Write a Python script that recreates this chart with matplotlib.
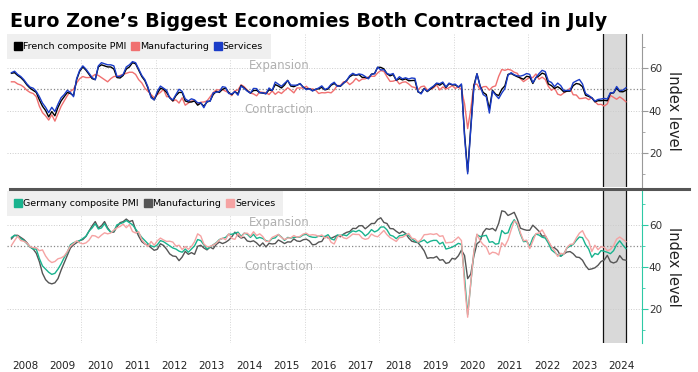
import numpy as np
import pandas as pd
import matplotlib
matplotlib.use('Agg')
import matplotlib.pyplot as plt
from matplotlib.lines import Line2D

plt.rcParams['font.family'] = ['DejaVu Sans']

# monthly PMI readings, Jan 2008 - Jul 2024
fr_comp = [
    57.5, 57.8, 56.5, 55.5, 54.0, 52.0, 50.5, 49.5, 48.5, 45.0, 42.0, 40.0,  # 2008
    37.0, 39.5, 37.5, 41.5, 44.5, 46.5, 48.5, 48.0, 47.0, 54.5, 58.5, 60.5,  # 2009
    59.0, 57.0, 55.0, 54.5, 60.5, 61.5, 61.0, 60.5, 60.5, 59.5, 55.5, 55.3,  # 2010
    56.5, 59.5, 60.5, 62.5, 62.0, 59.0, 56.0, 54.0, 50.5, 46.5, 45.0, 48.0,  # 2011
    50.5, 50.0, 48.5, 46.0, 44.5, 47.0, 48.5, 48.5, 44.5, 44.0, 44.0, 44.5,  # 2012
    42.5, 43.5, 42.0, 44.0, 44.5, 47.5, 49.0, 48.5, 50.0, 50.5, 48.5, 47.5,  # 2013
    48.9, 47.9, 51.8, 50.6, 49.3, 48.2, 49.4, 49.5, 48.4, 48.2, 47.9, 49.7,  # 2014
    49.4, 52.2, 51.5, 50.6, 52.0, 54.2, 51.5, 51.2, 51.9, 52.6, 51.0, 50.1,  # 2015
    50.3, 49.3, 50.0, 50.2, 50.9, 49.7, 50.1, 51.9, 52.7, 51.6, 51.4, 52.8,  # 2016
    54.1, 55.9, 56.8, 56.6, 56.9, 55.6, 55.6, 55.1, 57.1, 57.4, 60.3, 60.3,  # 2017
    59.6, 57.3, 56.3, 56.9, 54.2, 55.0, 54.4, 54.9, 54.0, 54.1, 54.2, 48.7,  # 2018
    48.2, 50.4, 48.9, 50.1, 51.2, 52.7, 51.9, 52.9, 50.8, 52.6, 52.1, 52.0,  # 2019
    51.1, 52.0, 28.9, 11.1, 32.1, 51.7, 57.3, 51.6, 48.5, 47.5, 40.6, 49.5,  # 2020
    47.7, 47.0, 50.0, 51.6, 57.0, 57.4, 56.6, 55.9, 55.3, 54.7, 56.1, 55.8,  # 2021
    52.7, 55.5, 56.3, 57.6, 57.0, 52.5, 51.7, 50.4, 51.2, 50.2, 48.7, 49.1,  # 2022
    49.1, 51.7, 52.7, 52.4, 51.2, 47.2, 46.6, 46.0, 44.1, 44.6, 44.6, 44.8,  # 2023
    44.6, 48.1, 48.3, 50.5, 48.9, 48.8, 49.5,                                # 2024
]
fr_manu = [
    53.5, 53.5, 52.5, 52.0, 51.0, 49.5, 48.5, 48.0, 46.5, 42.0, 39.0, 37.5,
    35.5, 38.0, 35.0, 38.5, 42.0, 44.5, 47.0, 49.0, 50.0, 53.0, 55.0, 56.0,
    55.5, 55.5, 56.0, 57.0, 56.5, 55.5, 54.5, 53.5, 55.0, 56.0, 56.0, 56.5,
    57.0, 57.5, 58.0, 58.0, 57.0, 54.5, 53.0, 50.5, 49.0, 47.5, 46.0, 47.5,
    48.5, 50.0, 46.5, 46.5, 44.5, 45.0, 43.5, 46.0, 42.5, 43.5, 44.5, 44.5,
    42.9, 43.9, 44.0, 44.5, 46.4, 48.4, 49.7, 49.7, 49.8, 49.1, 48.4, 47.0,
    49.3, 49.7, 52.1, 51.2, 49.6, 48.2, 47.8, 46.9, 48.8, 48.5, 48.4, 47.5,
    49.2, 47.6, 48.8, 48.0, 49.4, 50.7, 49.6, 48.3, 50.6, 50.6, 50.6, 51.4,
    50.0, 50.2, 49.6, 48.0, 48.4, 48.3, 48.6, 48.3, 49.7, 51.8, 51.7, 53.5,
    53.6, 52.2, 53.3, 55.1, 53.8, 54.8, 54.9, 55.8, 56.1, 56.1, 57.7, 58.8,
    58.4, 55.9, 53.7, 53.8, 54.4, 52.5, 53.3, 53.5, 52.5, 51.2, 50.8, 49.7,
    51.2, 51.5, 49.7, 50.0, 50.6, 52.0, 49.7, 51.1, 50.1, 50.7, 51.7, 50.4,
    51.1, 49.8, 43.2, 31.5, 40.6, 52.3, 52.4, 49.8, 51.2, 51.3, 49.6, 51.1,
    51.6, 56.1, 59.3, 58.9, 59.4, 59.0, 58.0, 57.5, 55.0, 53.6, 54.6, 55.6,
    55.5, 57.2, 54.7, 55.7, 54.6, 51.4, 49.5, 50.6, 47.7, 47.2, 48.3, 49.2,
    50.5, 47.4, 47.3, 45.6, 45.7, 46.0, 45.1, 46.0, 44.2, 42.8, 42.9, 42.1,
    43.1, 47.1, 46.2, 45.3, 46.4, 45.4, 44.1,
]
fr_serv = [
    57.8, 58.5, 57.0, 56.0, 54.5, 52.5, 51.0, 50.5, 49.0, 46.5, 43.5, 41.5,
    39.0, 41.5, 39.5, 43.0, 46.0, 47.5, 49.5, 48.5, 46.5, 55.0, 59.0, 61.0,
    59.5, 57.5, 55.5, 54.5, 61.0, 62.5, 62.0, 61.5, 61.5, 61.0, 56.0, 56.0,
    57.0, 60.5, 61.5, 63.0, 62.5, 59.5, 56.5, 54.5, 51.0, 46.0, 45.0, 49.0,
    51.5, 50.5, 49.5, 46.0, 45.0, 47.5, 50.0, 49.0, 45.5, 44.5, 45.5, 45.0,
    43.6, 43.7, 41.3, 44.4, 44.3, 48.3, 48.6, 48.9, 51.2, 50.9, 48.0, 47.8,
    48.9, 47.2, 51.5, 50.4, 49.1, 48.2, 50.4, 50.3, 48.4, 48.3, 47.9, 50.6,
    49.4, 53.4, 52.4, 51.4, 52.8, 54.1, 52.0, 51.9, 51.9, 52.7, 51.0, 49.8,
    50.3, 49.2, 49.9, 50.6, 51.6, 49.9, 50.5, 52.3, 53.3, 51.4, 51.6, 52.9,
    54.1, 56.4, 57.5, 56.7, 57.2, 56.9, 56.0, 54.9, 57.0, 57.3, 60.4, 59.1,
    59.2, 57.4, 56.9, 57.4, 54.3, 55.9, 54.9, 55.4, 54.8, 55.3, 55.1, 49.0,
    47.8, 50.2, 49.1, 50.5, 51.5, 52.9, 52.6, 53.4, 51.1, 52.9, 52.2, 52.4,
    51.0, 52.5, 27.4, 10.2, 31.1, 50.7, 57.3, 51.5, 47.5, 46.5, 38.8, 49.1,
    47.3, 45.6, 48.2, 50.3, 56.6, 57.8, 56.8, 56.3, 56.2, 56.6, 57.4, 57.0,
    53.1, 55.5, 57.4, 58.9, 58.3, 53.9, 53.2, 51.2, 52.9, 51.7, 49.3, 49.5,
    49.4, 53.1, 53.9, 54.6, 52.5, 48.0, 47.1, 46.0, 44.4, 45.2, 45.4, 45.7,
    45.4, 48.4, 48.3, 51.3, 49.3, 49.6, 50.7,
]
de_comp = [
    54.0, 55.0, 54.5, 53.5, 52.5, 51.0, 49.5, 48.5, 48.5, 44.0, 40.5, 39.0,
    37.5, 36.5, 37.0, 39.0, 41.5, 44.5, 47.0, 50.5, 51.5, 52.0, 52.5, 53.5,
    54.5, 57.0, 58.5, 60.5, 58.0, 58.5, 60.5, 58.0, 56.5, 57.0, 60.0, 60.5,
    61.0, 62.0, 61.0, 60.0, 58.0, 56.0, 54.0, 52.5, 51.0, 50.0, 49.5, 50.5,
    52.5, 52.0, 51.0, 50.0, 49.0, 48.5, 47.5, 47.0, 48.5, 47.0, 48.5, 50.0,
    53.0, 52.5, 50.5, 48.5, 49.5, 50.5, 51.5, 53.0, 53.5, 54.0, 55.5, 55.5,
    56.0, 56.5, 54.5, 56.0, 55.5, 54.0, 55.5, 53.5, 54.0, 53.5, 52.5, 52.0,
    53.5, 53.8, 55.4, 54.2, 52.6, 54.0, 53.7, 54.0, 54.1, 54.2, 55.2, 55.5,
    54.5, 54.1, 54.0, 54.6, 54.5, 54.4, 55.3, 53.3, 52.8, 55.1, 55.0, 55.2,
    54.8, 56.1, 57.1, 56.7, 57.4, 56.4, 54.7, 55.8, 57.7, 56.6, 57.3, 58.9,
    59.0, 57.6, 55.1, 54.6, 53.4, 54.8, 55.0, 55.6, 55.0, 53.4, 52.3, 51.6,
    52.1, 52.8, 51.4, 52.2, 52.6, 52.6, 50.9, 51.7, 48.5, 48.9, 49.4, 50.2,
    51.2, 50.7, 35.0, 17.4, 32.3, 47.0, 55.3, 54.4, 54.7, 55.0, 51.7, 52.0,
    50.8, 51.1, 57.3, 55.8, 56.2, 60.1, 62.4, 60.0, 55.5, 52.0, 52.2, 49.9,
    53.8, 55.6, 55.1, 54.1, 53.7, 51.3, 48.1, 46.9, 45.7, 45.1, 46.3, 49.0,
    49.9, 50.7, 52.6, 54.2, 53.9, 50.6, 48.5, 44.6, 46.4, 45.9, 47.8, 47.4,
    47.0, 46.3, 47.7, 50.6, 52.4, 50.4, 48.7,
]
de_manu = [
    53.3, 55.0, 55.0, 54.0, 53.0, 51.5, 49.5, 48.5, 46.5, 42.5, 37.0, 34.0,
    32.5, 32.0, 32.5, 34.5, 38.5, 42.0, 45.5, 49.0, 50.5, 51.5, 52.5, 53.0,
    54.5, 57.0, 59.5, 61.5, 58.5, 59.5, 61.5, 58.5, 56.5, 56.5, 59.0, 61.0,
    61.5, 62.7, 61.5, 62.0, 57.7, 54.6, 52.0, 50.9, 50.3, 49.1, 47.9, 48.4,
    51.0, 50.2, 48.4, 46.2, 45.2, 45.0, 43.0, 44.7, 47.4, 46.0, 46.8, 46.0,
    49.8, 50.3, 49.0, 48.1, 49.4, 48.6, 50.7, 51.8, 51.1, 51.7, 52.7, 54.3,
    56.5, 54.8, 53.7, 54.1, 52.3, 52.0, 52.4, 51.4, 49.9, 51.4, 49.5, 51.2,
    50.9, 51.1, 52.8, 52.0, 51.1, 51.9, 51.8, 53.3, 52.3, 52.1, 52.9, 53.2,
    52.3, 50.5, 50.7, 51.8, 52.1, 54.5, 53.8, 53.6, 54.3, 55.0, 54.3, 55.6,
    56.4, 56.8, 58.3, 58.2, 59.5, 59.6, 58.1, 59.3, 60.6, 60.6, 62.5, 63.3,
    61.1, 60.6, 58.2, 58.1, 56.9, 55.9, 56.9, 55.9, 53.7, 52.2, 51.8, 51.5,
    49.7, 47.6, 44.1, 44.4, 44.3, 45.0, 43.2, 43.5, 41.7, 42.1, 44.1, 43.7,
    45.3, 48.0, 45.4, 34.5, 36.6, 45.2, 51.0, 52.2, 56.4, 58.2, 57.8, 58.3,
    57.1, 60.7, 66.6, 66.2, 64.4, 65.1, 65.9, 62.6, 58.4, 57.8, 57.4, 57.4,
    59.8, 58.4, 56.9, 54.6, 54.8, 52.0, 49.3, 49.1, 47.8, 45.1, 46.2, 47.1,
    47.3, 46.3, 44.7, 44.5, 43.2, 40.6, 38.8, 39.1, 39.6, 40.8, 42.6, 43.3,
    45.5, 42.5, 41.9, 42.5, 45.4, 43.5, 43.2,
]
de_serv = [
    50.2, 52.5, 54.6, 52.5, 52.2, 51.3, 49.6, 49.2, 49.1, 47.7, 48.1, 45.2,
    43.2, 42.1, 42.6, 43.9, 44.3, 45.2, 47.3, 49.9, 51.1, 52.4, 51.4, 51.0,
    51.4, 52.7, 54.9, 54.7, 53.8, 55.1, 56.2, 55.7, 56.1, 57.5, 58.5, 59.2,
    60.3, 58.6, 60.1, 56.8, 56.1, 56.7, 52.9, 51.1, 49.7, 52.1, 50.3, 52.4,
    53.7, 52.8, 52.1, 52.2, 51.8, 49.9, 50.3, 48.3, 49.7, 48.4, 49.7, 52.0,
    55.7, 54.7, 50.9, 49.6, 49.7, 50.4, 51.3, 52.8, 53.7, 52.9, 55.7, 53.5,
    53.1, 55.9, 54.0, 56.0, 56.0, 54.6, 56.7, 54.9, 55.7, 54.4, 52.1, 52.1,
    54.0, 54.7, 55.4, 54.0, 53.0, 53.7, 53.8, 54.9, 54.1, 54.5, 55.6, 56.0,
    55.0, 55.3, 55.1, 54.5, 55.2, 53.7, 54.4, 51.7, 50.9, 54.2, 55.1, 53.8,
    53.4, 54.4, 55.6, 55.4, 55.4, 53.7, 53.1, 53.5, 55.6, 54.7, 54.3, 55.8,
    57.3, 55.3, 53.9, 53.0, 52.1, 53.9, 54.1, 55.0, 55.9, 53.6, 53.3, 51.8,
    53.0, 55.3, 55.4, 55.7, 55.4, 55.8, 54.5, 54.8, 51.4, 51.6, 51.7, 52.9,
    54.2, 52.5, 31.7, 16.2, 32.6, 47.3, 55.6, 52.5, 50.6, 49.5, 46.0, 47.0,
    46.7, 45.7, 51.5, 49.9, 52.8, 57.5, 61.8, 60.8, 56.2, 52.4, 52.7, 48.7,
    52.2, 55.8, 56.1, 57.6, 55.0, 52.4, 49.7, 47.7, 45.0, 46.5, 46.1, 49.2,
    50.7, 50.9, 53.7, 56.0, 57.2, 54.1, 52.3, 47.3, 50.3, 48.2, 49.6, 49.3,
    47.7, 48.3, 50.1, 53.2, 54.2, 53.1, 52.0,
]
years = list(range(2008, 2025))

months = pd.date_range('2008-01-01', periods=len(fr_comp), freq='MS')
t = months.year + (months.month - 1) / 12 + 0.12

fig = plt.figure(figsize=(6.98, 3.72), dpi=100)
ax1 = fig.add_axes([0.010, 0.4973, 0.9097, 0.4113])
ax2 = fig.add_axes([0.010, 0.078, 0.9097, 0.4086])


def style(ax, spine_color, series, labels):
    ax.set_xlim(2008, 2025.05)
    ax.set_ylim(4, 76)
    for s in ['left', 'top', 'bottom']:
        ax.spines[s].set_visible(False)
    ax.spines['right'].set_color(spine_color)
    ax.yaxis.tick_right()
    ax.set_yticks([20, 40, 60])
    ax.set_yticks([10, 30, 50, 70], minor=True)
    ax.tick_params(axis='y', which='major', length=4, color=spine_color,
                   labelsize=7.5, labelcolor='#333333', pad=1)
    ax.tick_params(axis='y', which='minor', length=2.5, color=spine_color)
    ax.yaxis.set_label_position('right')
    ax.set_ylabel('Index level', rotation=270, fontsize=10.5, labelpad=14, color='#222222')
    for y in [20, 40, 60]:
        ax.axhline(y, color='#cccccc', lw=0.7, ls=':', zorder=1)
    ax.axhline(50, color='#888888', lw=0.9, ls=':', zorder=1)
    for yr in range(2010, 2025, 2):
        ax.axvline(yr, color='#d5d5d5', lw=0.7, ls=':', zorder=1)
    # highlighted period
    ax.axvspan(2024.0, t[-1], color='#d9d9d9', zorder=0.5, lw=0)
    ax.axvline(2024.0, color='#111111', lw=0.9, zorder=1.5)
    ax.axvline(t[-1], color='#111111', lw=0.9, zorder=1.5)
    ax.text(2015.3, 61.2, 'Expansion', ha='center', va='center', fontsize=8.5, color='#b0b0b0')
    ax.text(2015.3, 40.3, 'Contraction', ha='center', va='center', fontsize=8.5, color='#b0b0b0')
    for vals, color in series:
        ax.plot(t, vals, color=color, lw=1.0, zorder=3)
    handles = [Line2D([], [], marker='s', ls='none', color=c, markersize=5.5) for c in labels[1]]
    leg = ax.legend(handles, labels[0], loc='upper left', bbox_to_anchor=(0, 1), ncol=3,
                    borderaxespad=0, frameon=True, fancybox=False, fontsize=6.8,
                    handlelength=0.7, handletextpad=0.15, columnspacing=0.6, borderpad=0.85)
    leg.get_frame().set_facecolor('#efefef')
    leg.get_frame().set_edgecolor('none')
    leg.get_frame().set_alpha(1)
    leg.set_zorder(5)


fr_colors = ['#000000', '#f07070', '#1a3cc8']
style(ax1, '#999999',
      [(fr_manu, fr_colors[1]), (fr_comp, fr_colors[0]), (fr_serv, fr_colors[2])],
      (['French composite PMI', 'Manufacturing', 'Services'], fr_colors))

de_colors = ['#19b38e', '#555555', '#f5a3a3']
style(ax2, '#2ec9a5',
      [(de_manu, de_colors[1]), (de_comp, de_colors[0]), (de_serv, de_colors[2])],
      (['Germany composite PMI', 'Manufacturing', 'Services'], de_colors))

ax1.set_xticks([])
ax2.set_xticks([y + 0.5 for y in years])
ax2.set_xticklabels([str(y) for y in years], fontsize=7.5, color='#222222')
ax2.tick_params(axis='x', length=0, pad=13)

# divider between panels
fig.add_artist(Line2D([0.014, 0.987], [0.492, 0.492], transform=fig.transFigure,
                      color='#555555', lw=2.2))

fig.text(0.014, 0.927, 'Euro Zone\u2019s Biggest Economies Both Contracted in July',
         fontsize=13.8, fontweight='bold', family='DejaVu Sans', va='baseline')

plt.savefig('out.png', dpi=100)
